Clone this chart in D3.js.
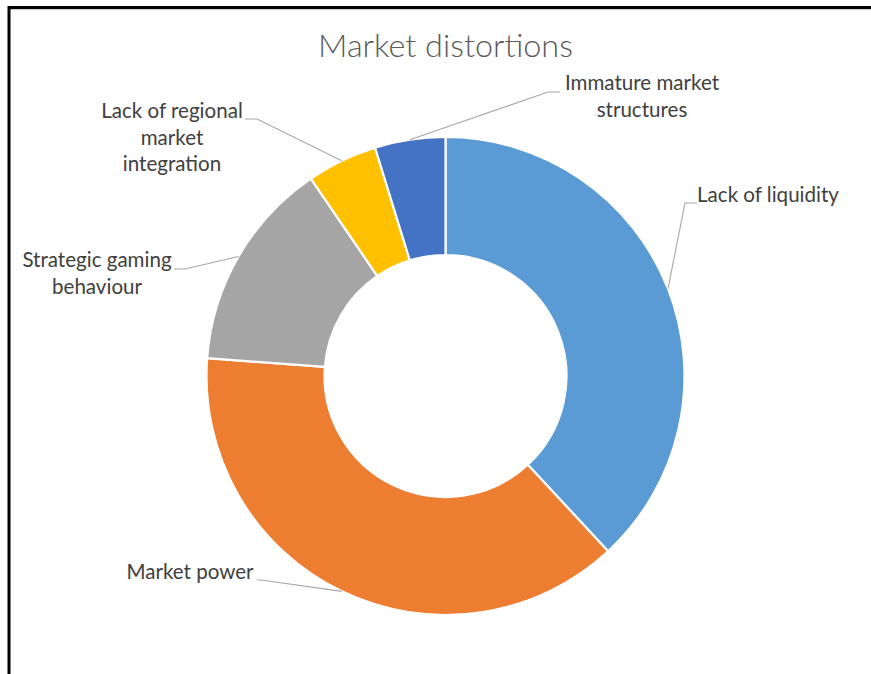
<!DOCTYPE html>
<html><head><meta charset="utf-8">
<script src="https://cdn.jsdelivr.net/npm/d3@7"></script>
<style>body{margin:0;background:#fff;overflow:hidden}</style></head>
<body><svg id="c" width="871" height="674"></svg>
<script>
const title = "Market distortions";
const categories = ["Lack of liquidity","Market power","Strategic gaming behaviour","Lack of regional market integration","Immature market structures"];
const values = [8, 8, 3, 1, 1];
const colors = ["#5B9BD5","#ED7D31","#A5A5A5","#FFC000","#4472C4"];
const labelLines = [["Lack of liquidity"],["Market power"],["Strategic gaming","behaviour"],["Lack of regional","market","integration"],["Immature market","structures"]];

// layout (positions only)
const cx = 445.5, cy = 376, rOuter = 239, rInner = 121;
const labelLayout = [
  {x:768, y:202, elbow:[685,203], end:[697,203]},
  {x:190, y:579, elbow:[261,580], end:[257,580]},
  {x:97,  y:267, elbow:[185,269], end:[174,269]},
  {x:172, y:118, elbow:[257,119], end:[245,119]},
  {x:642, y:90,  elbow:[548,92],  end:[560,92]}
];
const lineGap = 26.7;
const fontFam = "Lato, 'Open Sans', sans-serif";

const svg = d3.select("#c");
svg.append("rect").attr("width",871).attr("height",674).attr("fill","#fff");

// frame
svg.append("line").attr("x1",8).attr("x2",871).attr("y1",9.5).attr("y2",9.5).attr("stroke","#d0d0d0").attr("stroke-width",1.5);
svg.append("line").attr("x1",8).attr("x2",871).attr("y1",7.5).attr("y2",7.5).attr("stroke","#000").attr("stroke-width",3);
svg.append("line").attr("x1",9).attr("x2",9).attr("y1",6).attr("y2",674).attr("stroke","#000").attr("stroke-width",3);

// measure helper
function fitSize(text, target, weight){
  const t = svg.append("text").attr("font-family",fontFam).attr("font-size",100).attr("font-weight",weight).text(text);
  const w = t.node().getComputedTextLength(); t.remove();
  return 100*target/w;
}

// title
const titleSize = fitSize(title, 255, 300);
svg.append("text").attr("x",445.5).attr("y",57).attr("text-anchor","middle")
  .attr("font-family",fontFam).attr("font-weight",300).attr("font-size",titleSize)
  .attr("fill","#595959").text(title);

const pie = d3.pie().sort(null).value(d=>d)(values);
const arc = d3.arc().innerRadius(rInner).outerRadius(rOuter);
const g = svg.append("g").attr("transform",`translate(${cx},${cy})`);
g.selectAll("path").data(pie).join("path")
  .attr("d",arc).attr("fill",(d,i)=>colors[i])
  .attr("stroke","#fff").attr("stroke-width",2.2).attr("stroke-linejoin","round");

// leader lines
pie.forEach((d,i)=>{
  const a = (d.startAngle+d.endAngle)/2;
  const sx = cx + Math.sin(a)*rOuter, sy = cy - Math.cos(a)*rOuter;
  const L = labelLayout[i];
  svg.append("polyline").attr("points",[[sx,sy],L.elbow,L.end].map(p=>p.join(",")).join(" "))
    .attr("fill","none").attr("stroke","#A6A6A6").attr("stroke-width",1.1);
});

// labels
const labSize = fitSize("Lack of liquidity", 142, 400);
labelLines.forEach((lines,i)=>{
  const L = labelLayout[i];
  const t = svg.append("text").attr("text-anchor","middle").attr("font-family",fontFam)
    .attr("font-size",labSize).attr("fill","#404040");
  lines.forEach((ln,j)=>{
    t.append("tspan").attr("x",L.x).attr("y",L.y + j*lineGap).text(ln);
  });
});
</script></body></html>
